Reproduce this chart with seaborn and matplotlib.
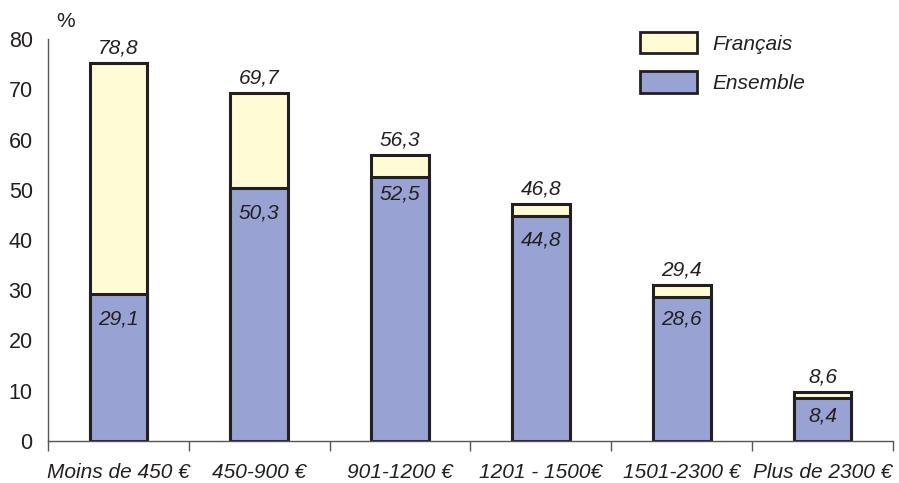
import seaborn as sns
import matplotlib.pyplot as plt
import pandas as pd
from matplotlib.patches import Patch

# tranches de revenu
tranches = ["Moins de 450 €", "450-900 €", "901-1200 €", "1201 - 1500€", "1501-2300 €", "Plus de 2300 €"]
# hauteurs
haut_francais = [75.3, 69.2, 57.0, 47.1, 31.1, 9.7]
haut_ensemble = [29.3, 50.4, 52.5, 44.8, 28.7, 8.6]
# valeurs affichées
lab_francais = ["78,8", "69,7", "56,3", "46,8", "29,4", "8,6"]
lab_ensemble = ["29,1", "50,3", "52,5", "44,8", "28,6", "8,4"]

df = pd.DataFrame({"tranche": tranches, "francais": haut_francais, "ensemble": haut_ensemble})

sns.set_style("white")
plt.rcParams["font.family"] = ["Liberation Sans", "DejaVu Sans"]

jaune = "#FFFCD5"
bleu = "#99A3D3"
bord = "#231F20"
texte = "#231F20"

fig = plt.figure(figsize=(8.99, 4.83), dpi=100)
ax = fig.add_axes([48 / 899, 42 / 483, 845 / 899, 402 / 483])

sns.barplot(data=df, x="tranche", y="francais", color=jaune, edgecolor=bord,
            linewidth=2.2, width=0.41, saturation=1, ax=ax)
sns.barplot(data=df, x="tranche", y="ensemble", color=bleu, edgecolor=bord,
            linewidth=2.2, width=0.41, saturation=1, ax=ax)

# décalage (en unités de y) des étiquettes sous la limite bleu/jaune
decal = [5.0, 5.0, 3.3, 4.8, 4.4, 3.6]
for i in range(len(tranches)):
    ax.text(i, haut_francais[i] + 3.0, lab_francais[i], ha="center", va="center",
            fontsize=15, style="italic", color=texte)
    ax.text(i, haut_ensemble[i] - decal[i], lab_ensemble[i], ha="center", va="center",
            fontsize=15, style="italic", color=texte)

ax.set_xlim(-0.5, 5.5)
ax.set_ylim(0, 80)
ax.set_yticks(range(0, 81, 10))
ax.set_xlabel("")
ax.set_ylabel("")
ax.set_xticks(range(6))
ax.set_xticklabels(tranches, style="italic", fontsize=15)
ax.set_xticks([k - 0.5 for k in range(7)], minor=True)
ax.tick_params(axis="x", which="major", length=0, pad=16, labelcolor=texte)
ax.tick_params(axis="x", which="minor", length=7, width=1, direction="out", color="#555555")
ax.tick_params(axis="y", length=7, width=1, direction="out", color="#555555", labelsize=15.5, pad=4,
               labelcolor=texte)
ax.tick_params(axis="x", bottom=True, which="both")

for s in ["top", "right"]:
    ax.spines[s].set_visible(False)
for s in ["left", "bottom"]:
    ax.spines[s].set_color("#555555")
    ax.spines[s].set_linewidth(1)

fig.text(56 / 899, 1 - 27 / 483, "%", fontsize=15, color=texte)

handles = [Patch(facecolor=jaune, edgecolor=bord, linewidth=2, label="Français"),
           Patch(facecolor=bleu, edgecolor=bord, linewidth=2, label="Ensemble")]
leg = fig.legend(handles=handles, loc="upper left", bbox_to_anchor=(640 / 899, 1 - 32 / 483),
                 frameon=False, prop={"style": "italic", "size": 15}, handlelength=2.75,
                 handleheight=1.2, labelspacing=0.85, handletextpad=0.7, borderpad=0,
                 borderaxespad=0)
for t in leg.get_texts():
    t.set_color(texte)

fig.savefig("out.png", dpi=100)
